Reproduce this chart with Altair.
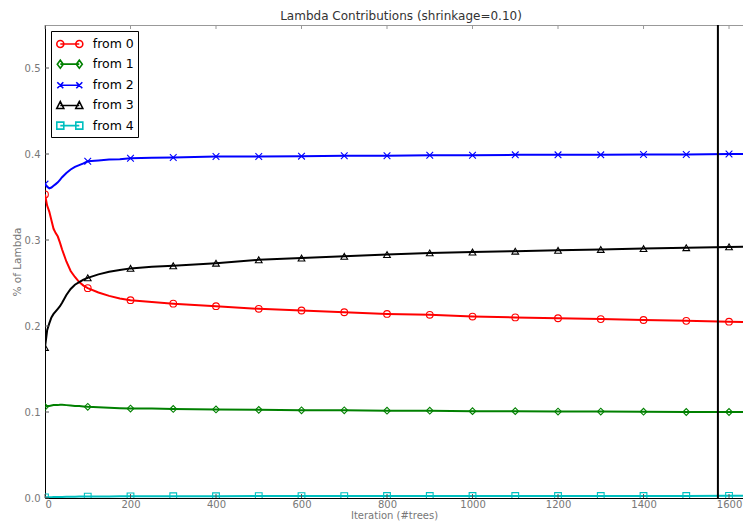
import altair as alt
import pandas as pd

FONT = "DejaVu Sans"

# ---------------- data ----------------
iterations = [0, 5, 10, 15, 20, 25, 30, 35, 40, 50, 60, 70, 80, 90, 100, 125, 150, 175, 200,
              250, 300, 400, 500, 600, 700, 800, 900, 1000, 1100, 1200, 1300, 1400, 1500, 1600, 1670]

from_0 = [0.353, 0.340, 0.333, 0.323, 0.313, 0.308, 0.304, 0.297, 0.289, 0.275, 0.264, 0.257, 0.251,
          0.247, 0.244, 0.239, 0.235, 0.232, 0.230, 0.228, 0.226, 0.223, 0.220, 0.218, 0.216, 0.214,
          0.213, 0.211, 0.210, 0.209, 0.208, 0.207, 0.206, 0.205, 0.2045]
from_1 = [0.106, 0.107, 0.107, 0.1075, 0.108, 0.108, 0.108, 0.1085, 0.1085, 0.108, 0.1075, 0.107,
          0.107, 0.1065, 0.106, 0.1055, 0.105, 0.1045, 0.104, 0.104, 0.1035, 0.103, 0.1025, 0.102,
          0.102, 0.1015, 0.1015, 0.101, 0.101, 0.1005, 0.1005, 0.1003, 0.100, 0.100, 0.100]
from_2 = [0.365, 0.362, 0.360, 0.361, 0.363, 0.365, 0.367, 0.370, 0.373, 0.378, 0.382, 0.385, 0.387,
          0.389, 0.3915, 0.3925, 0.3935, 0.394, 0.395, 0.3955, 0.396, 0.397, 0.397, 0.3975, 0.398,
          0.398, 0.3985, 0.3985, 0.399, 0.399, 0.399, 0.3995, 0.3995, 0.400, 0.400]
from_3 = [0.175, 0.195, 0.203, 0.210, 0.214, 0.217, 0.220, 0.223, 0.227, 0.236, 0.243, 0.248, 0.251,
          0.254, 0.256, 0.260, 0.263, 0.265, 0.267, 0.269, 0.270, 0.273, 0.277, 0.279, 0.281, 0.283,
          0.285, 0.286, 0.287, 0.288, 0.289, 0.290, 0.291, 0.292, 0.2925]
from_4 = [0.0008, 0.0009, 0.001, 0.001, 0.0011, 0.0012, 0.0012, 0.0013, 0.0013, 0.0014, 0.0015,
          0.0015, 0.0016, 0.0016, 0.0017, 0.0018, 0.0018, 0.0019, 0.002, 0.002, 0.0021, 0.0021,
          0.0022, 0.0022, 0.0022, 0.0023, 0.0023, 0.0023, 0.0023, 0.0024, 0.0024, 0.0024, 0.0024,
          0.0025, 0.0025]

series_names = ["from 0", "from 1", "from 2", "from 3", "from 4"]
series_values = [from_0, from_1, from_2, from_3, from_4]
series_colors = ["#ff0000", "#008000", "#0000ff", "#000000", "#00bfbf"]

best_iteration = [1574]
x_tick_values = [0, 200, 400, 600, 800, 1000, 1200, 1400, 1600]
y_tick_values = [0.0, 0.1, 0.2, 0.3, 0.4, 0.5]

X_MAX = 1632.7
Y_MAX = 0.55
W, H = 698, 473

marker_shapes = ["circle", "diamond", "M-1,-1L1,1M-1,1L1,-1", "triangle-up", "square"]
LINE = "M-1.1875,0L1.1875,0"
legend_shapes = [
    LINE + "M-1.625,0A0.4375,0.4375,0,1,0,-0.75,0A0.4375,0.4375,0,1,0,-1.625,0"
    "M0.75,0A0.4375,0.4375,0,1,0,1.625,0A0.4375,0.4375,0,1,0,0.75,0",
    LINE + "M-1.5625,0L-1.1875,-0.5L-0.8125,0L-1.1875,0.5Z"
    "M0.8125,0L1.1875,-0.5L1.5625,0L1.1875,0.5Z",
    LINE + "M-1.5625,-0.375L-0.8125,0.375M-1.5625,0.375L-0.8125,-0.375"
    "M0.8125,-0.375L1.5625,0.375M0.8125,0.375L1.5625,-0.375",
    LINE + "M-1.625,0.375L-1.1875,-0.5L-0.75,0.375Z"
    "M0.75,0.375L1.1875,-0.5L1.625,0.375Z",
    LINE + "M-1.625,-0.4375H-0.75V0.4375H-1.625Z"
    "M0.75,-0.4375H1.625V0.4375H0.75Z",
]

rows = []
for name, vals in zip(series_names, series_values):
    for it, v in zip(iterations, vals):
        rows.append({"iteration": it, "value": v, "series": name})
df = pd.DataFrame(rows)

# ---------------- encodings ----------------
x_enc = alt.X("iteration:Q", title="Iteration (#trees)",
              scale=alt.Scale(domain=[0, X_MAX], nice=False, zero=False),
              axis=alt.Axis(values=x_tick_values, format="d", labelPadding=1, titlePadding=1,
                            titleFontSize=10))
y_enc = alt.Y("value:Q", title="% of Lambda",
              scale=alt.Scale(domain=[0, Y_MAX], nice=False),
              axis=alt.Axis(values=y_tick_values, format=".1f", labelPadding=5, titlePadding=2,
                            titleFontSize=10.5))

color_scale = alt.Scale(domain=series_names, range=series_colors)

base = alt.Chart(df)

lines = base.mark_line(strokeWidth=2, clip=True).encode(
    x=x_enc, y=y_enc,
    color=alt.Color("series:N", scale=color_scale, legend=None),
)

markers = base.transform_filter("datum.iteration % 100 == 0 && datum.iteration <= 1600").mark_point(
    filled=False, size=45, strokeWidth=1.1, opacity=1, clip=True
).encode(
    x=alt.X("iteration:Q"), y=alt.Y("value:Q"),
    color=alt.Color("series:N", scale=color_scale, legend=None),
    shape=alt.Shape("series:N", scale=alt.Scale(domain=series_names, range=marker_shapes), legend=None),
)

vline = alt.Chart(pd.DataFrame({"iteration": best_iteration})).mark_rule(
    color="black", strokeWidth=2
).encode(x=alt.X("iteration:Q"))

xt_bottom = alt.Chart(pd.DataFrame({"iteration": x_tick_values})).mark_rule(
    color="#555", strokeWidth=1
).encode(x=alt.X("iteration:Q"), y=alt.value(H - 4), y2=alt.value(H))
xt_top = alt.Chart(pd.DataFrame({"iteration": x_tick_values})).mark_rule(
    color="#999", strokeWidth=1
).encode(x=alt.X("iteration:Q"), y=alt.value(0), y2=alt.value(4))
yt_left = alt.Chart(pd.DataFrame({"value": y_tick_values})).mark_rule(
    color="#555", strokeWidth=1
).encode(y=alt.Y("value:Q"), x=alt.value(0), x2=alt.value(4))

leg = alt.Legend(title=None, orient="top-left")
legend_layer = base.transform_filter("false").mark_point(
    filled=False, strokeWidth=1.6, opacity=1
).encode(
    x=alt.X("iteration:Q"), y=alt.Y("value:Q"),
    color=alt.Color("series:N", scale=alt.Scale(domain=series_names, range=series_colors), legend=leg),
    shape=alt.Shape("series:N", scale=alt.Scale(domain=series_names, range=legend_shapes), legend=leg),
)

chart = alt.layer(lines, markers, vline, xt_bottom, xt_top, yt_left, legend_layer).resolve_scale(
    color="independent", shape="independent"
).properties(
    width=W, height=H,
    autosize="none",
    padding={"left": 37, "top": 17, "right": 0, "bottom": 23},
    title=alt.TitleParams("Lambda Contributions (shrinkage=0.10)", fontSize=12, font=FONT,
                          color="#333333", fontWeight="normal", anchor="middle", offset=1.5, dx=7),
).configure_view(
    stroke="#999999", strokeWidth=1
).configure_axis(
    labelFont=FONT, labelFontSize=10, labelColor="#777777",
    titleFont=FONT, titleColor="#777777", titleFontWeight="normal",
    ticks=False, grid=False, domainColor="#000000", domainWidth=1,
).configure_legend(
    labelFont=FONT, labelFontSize=12.5, labelColor="#000000",
    symbolSize=256, symbolStrokeWidth=1.6, symbolOffset=5.8,
    strokeColor="#000000", fillColor="#ffffff", padding=4, cornerRadius=0,
    offset=6, rowPadding=4.15, labelOffset=14,
)

chart.save("out.html", embed_options={"renderer": "svg", "actions": False})
